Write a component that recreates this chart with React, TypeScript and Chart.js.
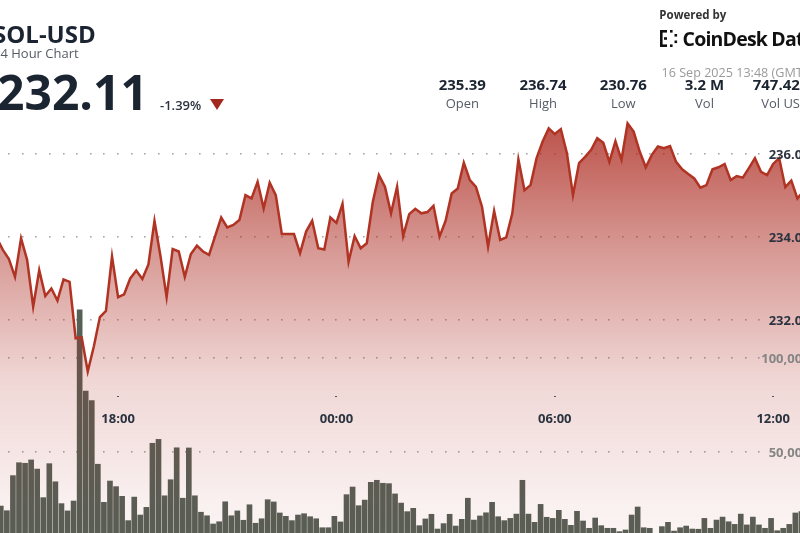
import React, { useEffect, useRef } from "react";
import { Chart, registerables } from "chart.js";

Chart.register(...registerables);

// ---- data (10-minute steps, step 0 = 18:00) ----
const FIRST_STEP = -20;
const STEP_MINUTES = 10;

const prices = [
  233.98, 233.69, 233.47, 233.04, 233.97, 233.45, 232.32, 233.2, 232.58, 232.76,
  232.47, 232.98, 232.92, 231.56, 231.58, 230.76, 231.36, 232.07, 232.22, 233.53,
  232.55, 232.62, 233.0, 233.19, 232.99, 233.34, 234.39, 233.53, 232.55, 233.71,
  233.65, 233.04, 233.59, 233.79, 233.65, 233.57, 234.02, 234.47, 234.23, 234.29,
  234.41, 235.01, 234.93, 235.33, 234.69, 235.31, 235.01, 234.07, 234.07, 234.07,
  233.61, 234.13, 234.39, 233.73, 233.7, 234.47, 234.34, 234.8, 233.4, 234.02,
  233.73, 233.85, 234.85, 235.49, 235.21, 234.57, 235.21, 234.02, 234.55, 234.68,
  234.57, 234.6, 234.75, 234.01, 234.39, 235.05, 235.17, 235.79, 235.37, 235.21,
  234.73, 233.77, 234.63, 233.93, 233.99, 234.57, 235.87, 235.13, 235.25, 235.9,
  236.3, 236.62, 236.48, 236.6, 236.02, 235.01, 235.78, 235.93, 236.1, 236.38,
  236.27, 235.81, 236.31, 235.86, 236.74, 236.54, 236.06, 235.68, 235.98, 236.18,
  236.14, 236.19, 235.81, 235.63, 235.52, 235.41, 235.19, 235.25, 235.63, 235.68,
  235.76, 235.37, 235.47, 235.43, 235.66, 235.9, 235.57, 235.49, 235.76, 235.9,
  235.2, 235.36, 234.93, 235.1,
];

const volumes = [
  20900, 18400, 37200, 44100, 43800, 45600, 40700, 25400, 43600, 33900,
  22200, 18300, 23600, 125900, 82500, 77300, 43300, 22900, 34300, 31300,
  26100, 13100, 25700, 16100, 20200, 54500, 56600, 26400, 35000, 52100,
  25100, 52000, 26400, 17600, 15700, 11300, 12500, 23200, 15700, 18300,
  13300, 21600, 11700, 14100, 24300, 23100, 17200, 15400, 13100, 16100,
  16800, 15200, 14100, 9300, 9300, 15400, 12400, 27000, 31100, 21100,
  24100, 33600, 34700, 33100, 32900, 27400, 22500, 17900, 19700, 10400,
  14000, 16500, 8600, 11500, 16500, 10200, 13800, 25100, 13400, 15600,
  17300, 22900, 15200, 13100, 14300, 16600, 34700, 16600, 12200, 21800,
  14900, 14300, 18600, 13800, 10600, 18100, 12900, 9000, 14500, 10400,
  9000, 9000, 7200, 8100, 16100, 20400, 9300, 9000, 4900, 9900,
  12200, 7500, 9300, 10200, 8600, 8500, 14300, 9000, 13400, 15000,
  12500, 11100, 16600, 10800, 15000, 10800, 9000, 14300, 7700, 9000,
  11100, 17200, 17900, 12500,
];

const timeTickMinutes = [0, 360, 720, 1080];
const timeTickLabels = ["18:00", "00:00", "06:00", "12:00"];
const priceTicks = [236, 234, 232];
const priceTickLabels = ["236.00", "234.00", "232.00"];
const volumeTicks = [100000, 50000];
const volumeTickLabels = ["100,000", "50,000"];
const gridDotStepMinutes = 22.5;

const symbol = "SOL-USD";
const subtitle = "24 Hour Chart";
const lastPrice = "232.11";
const changePct = "-1.39%";
const statValues = ["235.39", "236.74", "230.76", "3.2 M", "747.42 M"];
const statLabels = ["Open", "High", "Low", "Vol", "Vol USD"];
const timestampText = "16 Sep 2025 13:48 (GMT)";

const FONT = "'Open Sans', 'Noto Sans', sans-serif";

export default function App() {
  const canvasRef = useRef<HTMLCanvasElement | null>(null);

  useEffect(() => {
    const canvas = canvasRef.current;
    if (!canvas) return;

    const linePoints = prices.map((p, i) => ({ x: (FIRST_STEP + i) * STEP_MINUTES, y: p }));
    const barPoints = volumes.map((v, i) => ({ x: (FIRST_STEP + i) * STEP_MINUTES, y: v }));

    const overlay = {
      id: "overlay",
      beforeDatasetsDraw(chart: any) {
        const { ctx, scales } = chart;
        const xs = scales.x;
        ctx.save();
        ctx.fillStyle = "#a8a8a8";
        const ys: number[] = [
          ...priceTicks.map((t) => scales.y.getPixelForValue(t)),
          ...volumeTicks.map((t) => scales.yv.getPixelForValue(t)),
        ];
        for (let k = -8; k <= 47; k++) {
          const x = xs.getPixelForValue(k * gridDotStepMinutes);
          for (const y of ys) ctx.fillRect(Math.round(x) - 1, Math.round(y) - 1, 1.6, 1.6);
        }
        ctx.restore();
      },
      afterDraw(chart: any) {
        const { ctx, scales } = chart;
        const t = (s: string, x: number, y: number, font: string, color: string, align: CanvasTextAlign = "left", spacing = "0px") => {
          ctx.font = font;
          ctx.fillStyle = color;
          ctx.textAlign = align;
          ctx.textBaseline = "alphabetic";
          (ctx as any).letterSpacing = spacing;
          ctx.fillText(s, x, y);
          (ctx as any).letterSpacing = "0px";
        };
        ctx.save();
        // time axis
        timeTickMinutes.forEach((m, i) => {
          const x = scales.x.getPixelForValue(m);
          ctx.fillStyle = "#555";
          ctx.fillRect(Math.round(x) - 1, 396, 2, 1);
          t(timeTickLabels[i], x, 423, `bold 13px ${FONT}`, "#2b3340", "center");
        });
        // value axes
        priceTicks.forEach((v, i) => {
          const y = scales.y.getPixelForValue(v);
          t(priceTickLabels[i], 809.5, y + 5, `bold 13px ${FONT}`, "#2b3340", "right");
        });
        volumeTicks.forEach((v, i) => {
          const y = scales.yv.getPixelForValue(v);
          t(volumeTickLabels[i], 809.5, y + 5, `bold 13px ${FONT}`, "#858585", "right");
        });
        // header
        t(symbol, -7, 43, `bold 24px ${FONT}`, "#1b2431");
        t(subtitle, -7, 58, `13px ${FONT}`, "#555b66");
        t(lastPrice, -3, 110, `bold 48px ${FONT}`, "#1b2431");
        t(changePct, 160, 110, `600 13px ${FONT}`, "#2b3340");
        ctx.fillStyle = "#a2281f";
        ctx.beginPath();
        ctx.moveTo(210, 99);
        ctx.lineTo(224, 99);
        ctx.lineTo(217, 110);
        ctx.closePath();
        ctx.fill();
        const centers = [462.3, 543, 623.3, 704.5, 785.3];
        statValues.forEach((s, i) => {
          t(s, centers[i], 90, `bold 15px ${FONT}`, "#1b2431", "center");
          t(statLabels[i], centers[i], 108, `13px ${FONT}`, "#555b66", "center");
        });
        t("Powered by", 659.3, 18.5, `bold 11.5px ${FONT}`, "#333");
        // logo mark
        ctx.fillStyle = "#111";
        ctx.fillRect(660, 30, 2.6, 17);
        ctx.fillRect(660, 30, 7, 2.6);
        ctx.fillRect(660, 44.4, 7, 2.6);
        ctx.fillRect(664, 37.2, 3, 2.6);
        ctx.fillRect(670, 30, 2.6, 2.6);
        ctx.fillRect(670, 44.4, 2.6, 2.6);
        ctx.fillRect(674.5, 34, 2.6, 2.6);
        ctx.fillRect(674.5, 40.5, 2.6, 2.6);
        t("CoinDesk Data", 682.5, 46, `bold 19.5px ${FONT}`, "#111", "left", "-0.8px");
        t(timestampText, 661.5, 76.5, `12.6px ${FONT}`, "#9a9a9a");
        ctx.restore();
      },
    };

    const chart = new Chart(canvas, {
      type: "line",
      data: {
        datasets: [
          {
            type: "line",
            data: linePoints,
            xAxisID: "x",
            yAxisID: "y",
            borderColor: "#b03323",
            borderWidth: 2.5,
            pointRadius: 0,
            tension: 0,
            fill: "start",
            order: 1,
            backgroundColor: (c: any) => {
              const ch = c.chart;
              const g = ch.ctx.createLinearGradient(0, 0, 0, ch.height);
              g.addColorStop(0, "rgba(172,42,32,0.9)");
              g.addColorStop(0.225, "rgba(172,42,32,0.82)");
              g.addColorStop(0.47, "rgba(172,42,32,0.48)");
              g.addColorStop(0.713, "rgba(172,42,32,0.19)");
              g.addColorStop(0.94, "rgba(172,42,32,0.07)");
              g.addColorStop(1, "rgba(172,42,32,0.05)");
              return g;
            },
          } as any,
          {
            type: "bar",
            data: barPoints,
            xAxisID: "xb",
            yAxisID: "yv",
            backgroundColor: "#556057",
            borderWidth: 0,
            barThickness: 5,
            order: 2,
          } as any,
        ],
      },
      options: {
        animation: false,
        responsive: false,
        events: [],
        layout: { padding: 0 },
        plugins: { legend: { display: false }, tooltip: { enabled: false } },
        scales: {
          x: { type: "linear", axis: "x", min: -194.7, max: 1124.3, display: false, offset: false },
          xb: { type: "linear", axis: "x", min: -197.2, max: 1121.8, display: false, offset: false },
          y: { type: "linear", axis: "y", min: 226.867, max: 239.711, display: false },
          yv: { type: "linear", axis: "y", min: 6478, max: 291809, display: false },
        } as any,
      },
      plugins: [overlay],
    });
    return () => chart.destroy();
  }, []);

  return (
    <div style={{ position: "absolute", left: 0, top: 0, width: 800, height: 533, overflow: "hidden", background: "#fff" }}>
      <canvas ref={canvasRef} width={800} height={533} style={{ display: "block" }} />
    </div>
  );
}
